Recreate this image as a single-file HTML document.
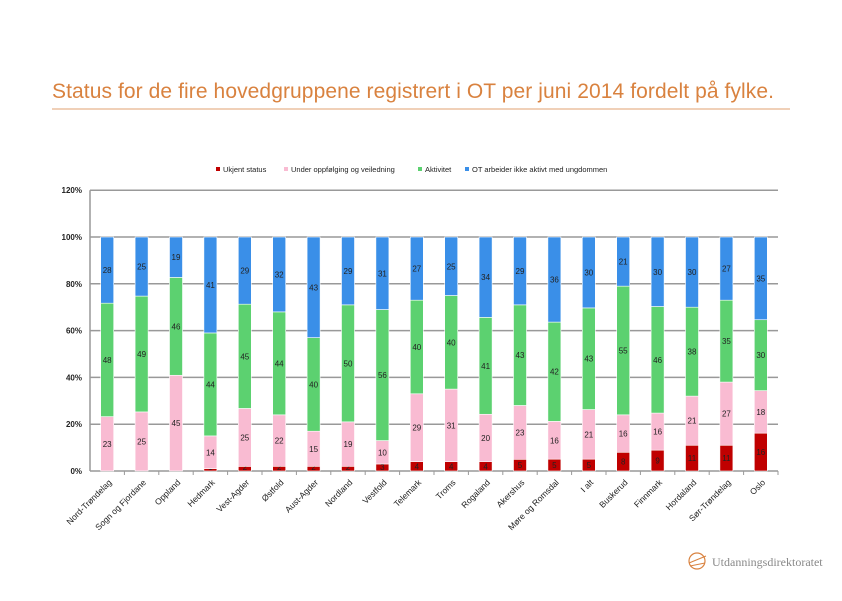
<!DOCTYPE html>
<html><head><meta charset="utf-8"><style>
body{margin:0;background:#fff;width:842px;height:596px;overflow:hidden;font-family:"Liberation Sans",sans-serif}
</style></head><body>
<svg width="842" height="596" xmlns="http://www.w3.org/2000/svg">
<text x="52" y="98" font-size="21" fill="#D9823F" textLength="722">Status for de fire hovedgruppene registrert i OT per juni 2014 fordelt på fylke.</text>
<line x1="52" y1="109" x2="790" y2="109" stroke="#E0A070" stroke-width="1"/>
<g id="legend"></g>
<g id="grid"></g>
<g id="bars"></g>
<g id="axes"></g>
<g>
<circle cx="697" cy="561" r="8" fill="none" stroke="#D9823F" stroke-width="1.2"/>
<path d="M689 563 L706 556 M690 566 L705 563" stroke="#D9823F" stroke-width="1" fill="none"/>
<text x="712" y="566" font-family="Liberation Serif,serif" font-size="12" fill="#888">Utdanningsdirektoratet</text>
</g>
</svg>
<script>
const categories=["Nord-Trøndelag","Sogn og Fjordane","Oppland","Hedmark","Vest-Agder","Østfold","Aust-Agder","Nordland","Vestfold","Telemark","Troms","Rogaland","Akershus","Møre og Romsdal","I alt","Buskerud","Finnmark","Hordaland","Sør-Trøndelag","Oslo"];
const ukjent=[0,0,0,1,2,2,2,2,3,4,4,4,5,5,5,8,9,11,11,16];
const under=[23,25,45,14,25,22,15,19,10,29,31,20,23,16,21,16,16,21,27,18];
const aktivitet=[48,49,46,44,45,44,40,50,56,40,40,41,43,42,43,55,46,38,35,30];
const otIkke=[28,25,19,41,29,32,43,29,31,27,25,34,29,36,30,21,30,30,27,35];
const yTicks=[0,20,40,60,80,100,120];
const seriesNames=["Ukjent status","Under oppfølging og veiledning","Aktivitet","OT arbeider ikke aktivt med ungdommen"];
const colors=["#C00000","#F9BBD2","#5CD170","#3A8FE8"];
const NS="http://www.w3.org/2000/svg";
const x0=90,x1=778,yBase=471,yTop100=237;
function y(p){return yBase-(yBase-yTop100)*p/100;}
const bw=(x1-x0)/categories.length;
function xc(i){return x0+bw*(i+0.5);}
function mk(t,a,p){const e=document.createElementNS(NS,t);for(const k in a)e.setAttribute(k,a[k]);p.appendChild(e);return e;}
const grid=document.getElementById('grid'),axes=document.getElementById('axes'),bars=document.getElementById('bars'),leg=document.getElementById('legend');
yTicks.forEach(t=>{
 const l=mk('line',{x1:x0,x2:x1,y1:y(t),y2:y(t),stroke:'#999','stroke-width':1.5},grid);
 
 
 const tx=mk('text',{x:x0-8,y:y(t)+3,'font-size':8,'font-weight':'bold','text-anchor':'end',fill:'#222'},axes);
 tx.textContent=t+'%';
 
 
});
mk('line',{x1:x0,x2:x0,y1:y(120),y2:yBase,stroke:'#999','stroke-width':1.5},axes);
const series=[ukjent,under,aktivitet,otIkke];
categories.forEach((c,i)=>{
 const tot=series.reduce((s,a)=>s+a[i],0);
 let acc=0;
 series.forEach((arr,s)=>{
  const v=arr[i];const p0=acc/tot*100,p1=(acc+v)/tot*100;acc+=v;
  const r=mk('rect',{x:xc(i)-6.5,y:y(p1),width:13,height:Math.max(0,y(p0)-y(p1)),fill:colors[s],stroke:'#fff','stroke-width':0.6},bars);
  
  
  const ty=(y(p0)+y(p1))/2+3;
  const t=mk('text',{x:xc(i),y:s==0?Math.min(ty,yBase-1):ty,'font-size':8,'text-anchor':'middle',fill:'#222'},bars);
  t.textContent=v;
  
  
 });
 mk('line',{x1:x0+bw*(i+1),x2:x0+bw*(i+1),y1:yBase,y2:yBase+4,stroke:'#999'},axes);
 const lx=xc(i)+5,ly=yBase+12;
 const t=mk('text',{x:lx,y:ly,'font-size':8.5,'text-anchor':'end',fill:'#222',transform:`rotate(-45 ${lx} ${ly})`},axes);
 t.textContent=c;
 
 
});
const lxs=[216,284,418,465];
seriesNames.forEach((n,s)=>{
 const r=mk('rect',{x:lxs[s],y:167,width:4,height:4,fill:colors[s]},leg);
 
 
 const t=mk('text',{x:lxs[s]+7,y:172,'font-size':7.5,fill:'#222'},leg);
 t.textContent=n;
 
 
});
</script>
</body></html>
